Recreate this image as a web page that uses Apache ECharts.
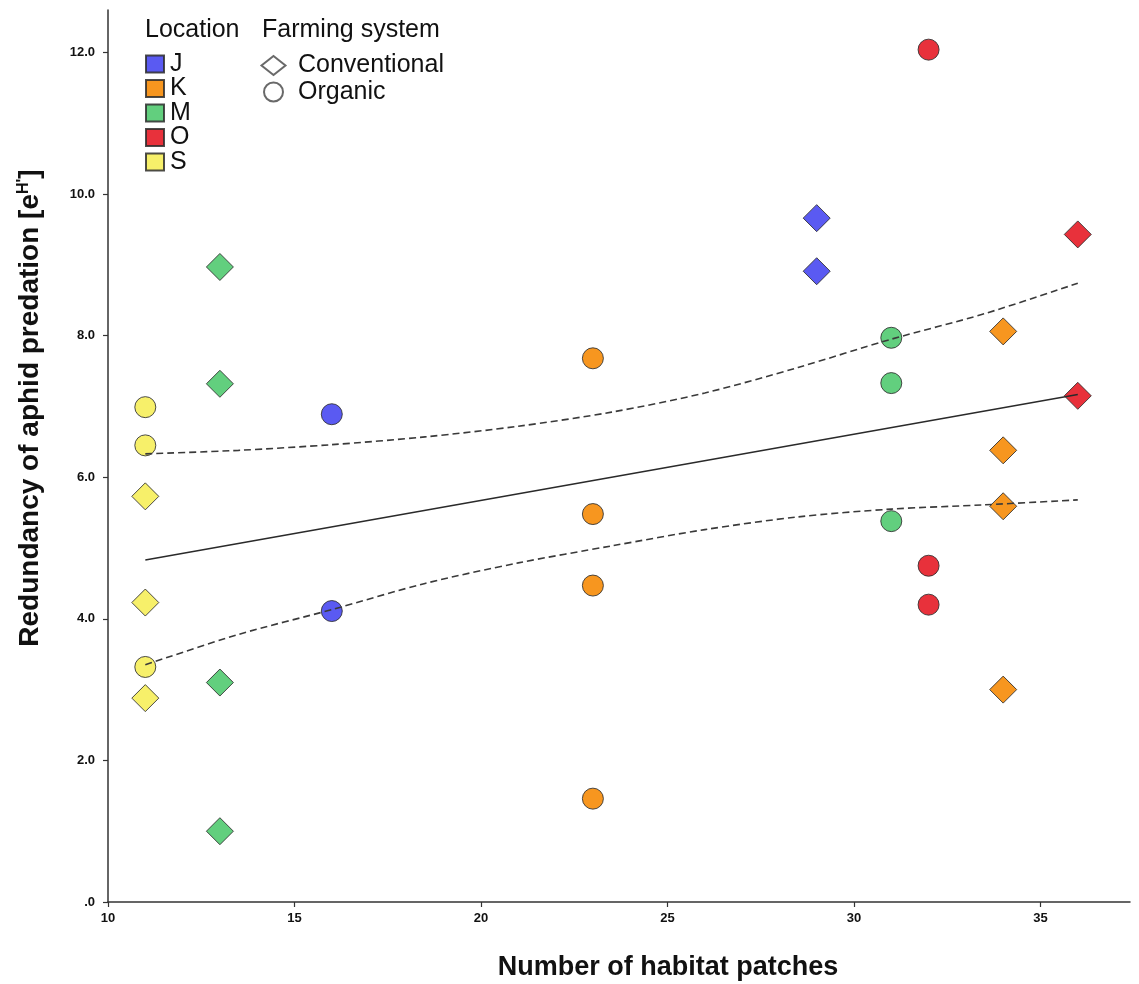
<!DOCTYPE html>
<html>
<head>
<meta charset="utf-8">
<script src="https://cdn.jsdelivr.net/npm/echarts@6/dist/echarts.min.js"></script>
<style>html,body{margin:0;padding:0;background:#fff}#c{width:1139px;height:984px}</style>
</head>
<body>
<div id="c"></div>
<script>
// ---- data ----
const locations = ['J', 'K', 'M', 'O', 'S'];
const systems = ['Conventional', 'Organic'];
const xTicks = [10, 15, 20, 25, 30, 35];
const yTicks = [0, 2, 4, 6, 8, 10, 12];

// [habitat patches, redundancy]
const J_conventional = [[29, 9.66], [29, 8.91]];
const J_organic = [[16, 6.89], [16, 4.11]];
const K_conventional = [[34, 8.06], [34, 6.38], [34, 5.59], [34, 3.00]];
const K_organic = [[23, 7.68], [23, 5.48], [23, 4.47], [23, 1.46]];
const M_conventional = [[13, 8.97], [13, 7.32], [13, 3.10], [13, 1.00]];
const M_organic = [[31, 7.97], [31, 7.33], [31, 5.38]];
const O_conventional = [[36, 9.43], [36, 7.15]];
const O_organic = [[32, 12.04], [32, 4.75], [32, 4.20]];
const S_conventional = [[11, 5.73], [11, 4.23], [11, 2.88]];
const S_organic = [[11, 6.99], [11, 6.45], [11, 3.32]];

// regression line and 95% band
const fitX = [11, 36];
const fitY = [4.83, 7.17];
const bandX = [11, 13.5, 16, 18.5, 21, 23.5, 26, 28.5, 31, 33.5, 36];
const upperY = [6.33, 6.38, 6.46, 6.57, 6.72, 6.92, 7.19, 7.55, 7.95, 8.31, 8.74];
const lowerY = [3.35, 3.78, 4.13, 4.50, 4.79, 5.03, 5.26, 5.44, 5.55, 5.61, 5.68];

// ---- styles ----
const locColors = {J: '#5a5af2', K: '#f7961f', M: '#62cf7e', O: '#e8313b', S: '#f7f06a'};
const pointSets = {
  J: [J_conventional, J_organic], K: [K_conventional, K_organic],
  M: [M_conventional, M_organic], O: [O_conventional, O_organic],
  S: [S_conventional, S_organic]
};
const FONT = '"Liberation Sans", Arial, sans-serif';
const border = 'rgba(45,45,45,0.85)';

const zip = (xs, ys) => xs.map((x, i) => [x, ys[i]]);

const series = [];
locations.forEach(loc => {
  pointSets[loc].forEach((pts, si) => {
    series.push({
      name: loc, type: 'scatter', z: 2,
      symbol: si === 0 ? 'diamond' : 'circle',
      symbolSize: si === 0 ? 27 : 21,
      itemStyle: {color: locColors[loc], borderColor: border, borderWidth: 1, opacity: 1},
      emphasis: {disabled: true},
      data: pts
    });
  });
});
systems.forEach((s, i) => {
  series.push({
    name: s, type: 'scatter', symbol: i === 0 ? 'diamond' : 'circle', symbolSize: 20,
    itemStyle: {color: '#fff', borderColor: '#444', borderWidth: 1.2}, data: []
  });
});
series.push({
  type: 'line', z: 5, data: zip(fitX, fitY), showSymbol: false, symbol: 'none',
  lineStyle: {color: '#2a2a2a', width: 1.5}, silent: true
});
series.push({
  type: 'line', z: 5, data: zip(bandX, upperY), showSymbol: false, symbol: 'none', smooth: 0.3,
  lineStyle: {color: '#3a3a3a', width: 1.6, type: [7, 4]}, silent: true
});
series.push({
  type: 'line', z: 5, data: zip(bandX, lowerY), showSymbol: false, symbol: 'none', smooth: 0.3,
  lineStyle: {color: '#3a3a3a', width: 1.6, type: [7, 4]}, silent: true
});

const chart = echarts.init(document.getElementById('c'), null, {renderer: 'canvas'});
chart.setOption({
  animation: false,
  backgroundColor: '#fff',
  grid: {left: 108, right: 9, top: 10, bottom: 82, containLabel: false},
  xAxis: {
    type: 'value', min: 10, max: 37.4, interval: 5,
    axisLine: {show: true, onZero: false, lineStyle: {color: '#333', width: 1.5}},
    axisTick: {show: true, length: 5, customValues: xTicks, lineStyle: {color: '#333', width: 1.2}},
    axisLabel: {customValues: xTicks, margin: 10, color: '#111', fontWeight: 'bold', fontSize: 13, fontFamily: FONT},
    splitLine: {show: false}
  },
  yAxis: {
    type: 'value', min: 0, max: 12.6, interval: 2,
    axisLine: {show: true, onZero: false, lineStyle: {color: '#333', width: 1.5}},
    axisTick: {show: true, length: 5, customValues: yTicks, lineStyle: {color: '#333', width: 1.2}},
    axisLabel: {
      customValues: yTicks, margin: 13, color: '#111', fontWeight: 'bold', fontSize: 13, fontFamily: FONT,
      formatter: v => v === 0 ? '.0' : v.toFixed(1)
    },
    splitLine: {show: false}
  },
  legend: [
    {
      data: locations, orient: 'vertical', left: 145, top: 51.5, padding: 0,
      icon: 'rect', itemWidth: 18, itemHeight: 17, itemGap: -0.5,
      selectedMode: false,
      textStyle: {fontSize: 25, fontFamily: FONT, color: '#111', padding: [0, 0, 0, 1]}
    },
    {
      data: systems, orient: 'vertical', left: 260.5, top: 53, padding: 0,
      itemWidth: 24, itemHeight: 19, itemGap: 1.5,
      selectedMode: false,
      textStyle: {fontSize: 25, fontFamily: FONT, color: '#111', padding: [0, 0, 0, 7.5]}
    }
  ],
  graphic: [
    {type: 'text', x: 145, y: 30, style: {text: 'Location', font: '25px ' + FONT, fill: '#111', verticalAlign: 'middle'}},
    {type: 'text', x: 262, y: 30, style: {text: 'Farming system', font: '25px ' + FONT, fill: '#111', verticalAlign: 'middle'}},
    {type: 'text', x: 668, y: 968, style: {text: 'Number of habitat patches', font: 'bold 27px ' + FONT, fill: '#111', align: 'center', verticalAlign: 'middle'}},
    {
      type: 'text', x: 30, y: 408, rotation: Math.PI / 2,
      style: {
        text: "Redundancy of aphid predation [e{sup|H'}]",
        font: 'bold 28px ' + FONT, fill: '#111', align: 'center', verticalAlign: 'middle',
        rich: {sup: {fontSize: 16, fontWeight: 'bold', fontFamily: FONT, verticalAlign: 'top', padding: [0, 0, 11, 0], fill: '#111'}}
      }
    }
  ],
  series: series
});
</script>
</body>
</html>
